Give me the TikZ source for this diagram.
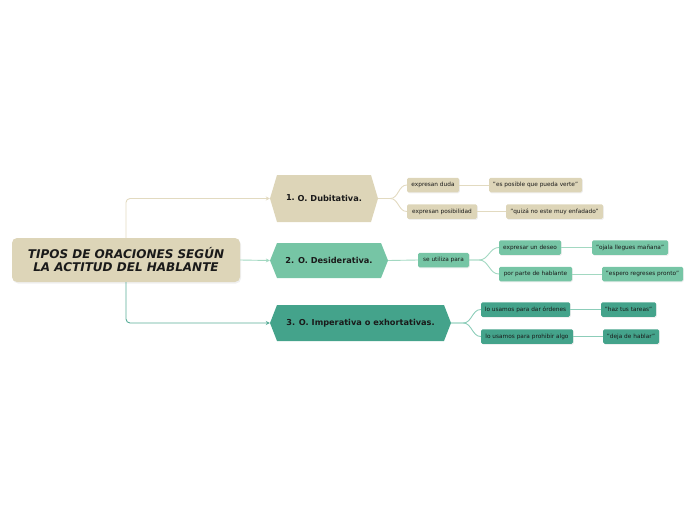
\documentclass[tikz,border=0pt]{standalone}
\usepackage{fontspec}
\setmainfont{DejaVu Sans}
\usetikzlibrary{arrows.meta,shadows}
\definecolor{beige}{HTML}{DDD5B8}
\definecolor{beigeln}{HTML}{E2DAC0}
\definecolor{lteal}{HTML}{76C5A5}
\definecolor{ltealln}{HTML}{A2D8C1}
\definecolor{dteal}{HTML}{44A38B}
\definecolor{dtealln}{HTML}{8CCDB9}
\definecolor{txt}{HTML}{1A1A1A}
\tikzset{
  rootbox/.style={fill=beige, rounded corners=5pt, minimum width=228pt, minimum height=44pt, inner sep=0pt,
    align=center, text=txt, font=\fontsize{12}{13}\selectfont\bfseries\itshape,
    drop shadow={opacity=0.12, shadow xshift=1pt, shadow yshift=-1.5pt}},
  hexbox/.style={minimum width=#1, inner sep=0pt, text=txt, font=\fontsize{8.2}{9}\selectfont\bfseries},
  hexfill/.style={path picture={\fill[#1] (path picture bounding box.west)
      -- ([xshift=7pt]path picture bounding box.north west)
      -- ([xshift=-7pt]path picture bounding box.north east)
      -- (path picture bounding box.east)
      -- ([xshift=-7pt]path picture bounding box.south east)
      -- ([xshift=7pt]path picture bounding box.south west) -- cycle;}},
  small/.style={fill=#1, rounded corners=1.5pt, minimum height=14.5pt, inner sep=0pt, text=txt,
    font=\fontsize{5.8}{6.5}\selectfont,
    drop shadow={opacity=0.12, shadow xshift=0.8pt, shadow yshift=-1pt}},
  conn/.style={draw=#1, line width=0.9pt},
  arr/.style={conn=#1, -{Stealth[length=4pt,width=4pt]}, rounded corners=4pt},
}
\begin{document}
\begin{tikzpicture}[x=1pt,y=-1pt]
\useasboundingbox (0,0) rectangle (696,520);

% root
\node[rootbox] (root) at (126,260) {TIPOS DE ORACIONES SEGÚN\\LA ACTITUD DEL HABLANTE};

% hexagons
\node[hexbox=108pt, minimum height=47pt, hexfill=beige] (h1) at (324,198.5) {\raisebox{1pt}{1.} O. Dubitativa.};
\node[hexbox=118pt, minimum height=35pt, hexfill=lteal] (h2) at (329,260.5) {2. O. Desiderativa.};
\node[hexbox=181pt, minimum height=36pt, hexfill=dteal] (h3) at (360.5,323) {3. O. Imperativa o exhortativas.};

% root connectors
\draw[arr=beigeln] (root.north) |- (h1.west);
\draw[arr=ltealln] (root.east) -- (h2.west);
\draw[arr=dteal!90] (root.south) |- (h3.west);

% group 1
\node[small=beige, minimum width=52pt] (s11) at (433,185) {expresan duda};
\node[small=beige, minimum width=70pt] (s12) at (442,211.5) {expresan posibilidad};
\node[small=beige, minimum width=93pt] (l11) at (535.5,185) {"es posible que pueda verte"};
\node[small=beige, minimum width=97pt] (l12) at (554.5,211.5) {"quizá no este muy enfadado"};
\draw[conn=beigeln] (h1.east) -- ++(12,0) to[out=0,in=180] (s11.west);
\draw[conn=beigeln] (h1.east) -- ++(12,0) to[out=0,in=180] (s12.west);
\draw[conn=beigeln] (s11.east) -- (l11.west);
\draw[conn=beigeln] (s12.east) -- (l12.west);

% group 2
\node[small=lteal, minimum width=51pt] (se) at (443.5,260) {se utiliza para};
\node[small=lteal, minimum width=62pt] (s21) at (530,247.5) {expresar un deseo};
\node[small=lteal, minimum width=73pt] (s22) at (535.5,274) {por parte de hablante};
\node[small=lteal, minimum width=76pt] (l21) at (630,247.5) {"ojala llegues mañana"};
\node[small=lteal, minimum width=81pt] (l22) at (642.5,274) {"espero regreses pronto"};
\draw[conn=ltealln] (h2.east) -- (se.west);
\draw[conn=ltealln] (se.east) -- ++(10,0) to[out=0,in=180] (s21.west);
\draw[conn=ltealln] (se.east) -- ++(10,0) to[out=0,in=180] (s22.west);
\draw[conn=ltealln] (s21.east) -- (l21.west);
\draw[conn=ltealln] (s22.east) -- (l22.west);

% group 3
\node[small=dteal, minimum width=89pt] (s31) at (525.5,309.5) {lo usamos para dar órdenes};
\node[small=dteal, minimum width=92pt] (s32) at (527,336.5) {lo usamos para prohibir algo};
\node[small=dteal, minimum width=55pt] (l31) at (628.5,309.5) {"haz tus tareas"};
\node[small=dteal, minimum width=56pt] (l32) at (631,336.5) {"deja de hablar"};
\draw[conn=dtealln] (h3.east) -- ++(12,0) to[out=0,in=180] (s31.west);
\draw[conn=dtealln] (h3.east) -- ++(12,0) to[out=0,in=180] (s32.west);
\draw[conn=dtealln] (s31.east) -- (l31.west);
\draw[conn=dtealln] (s32.east) -- (l32.west);
\end{tikzpicture}
\end{document}
